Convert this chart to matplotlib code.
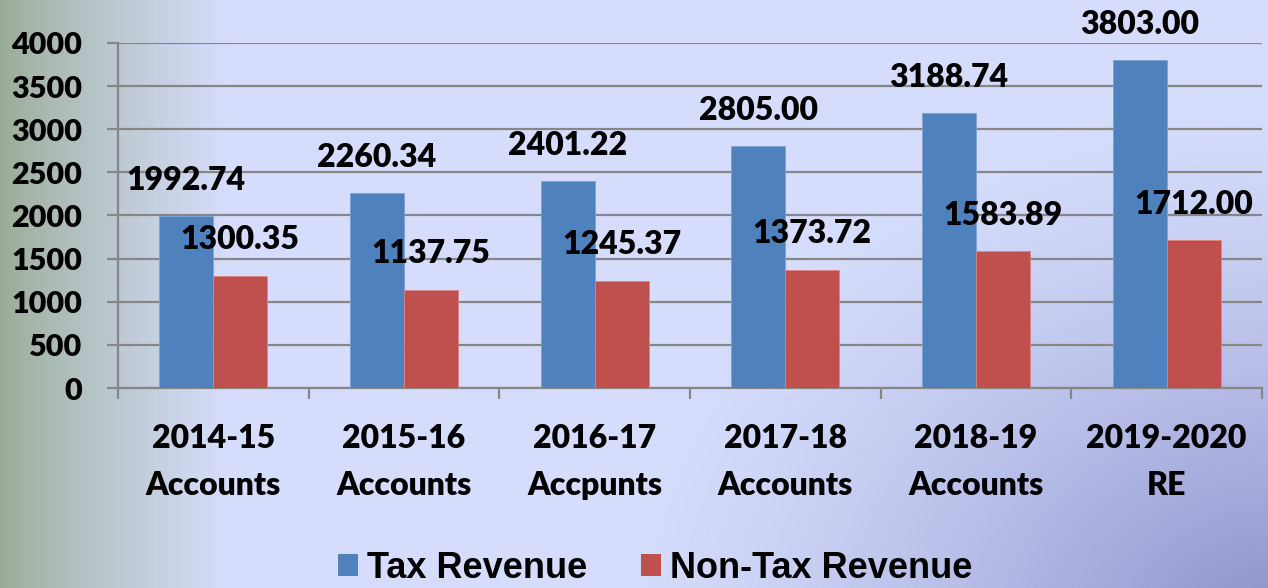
import numpy as np
import matplotlib
matplotlib.use('Agg')
import matplotlib.pyplot as plt
from matplotlib.patches import Patch

# data
categories = ['2014-15\nAccounts', '2015-16\nAccounts', '2016-17\nAccpunts',
              '2017-18\nAccounts', '2018-19\nAccounts', '2019-2020\nRE']
tax_revenue = [1992.74, 2260.34, 2401.22, 2805.00, 3188.74, 3803.00]
non_tax_revenue = [1300.35, 1137.75, 1245.37, 1373.72, 1583.89, 1712.00]
y_ticks = [0, 500, 1000, 1500, 2000, 2500, 3000, 3500, 4000]

blue = '#4F81BD'
red = '#C0504D'
grid_gray = '#868686'
lab_font = 'Lato'
lab_weight = 'heavy'

fig = plt.figure(figsize=(12.68, 5.88), dpi=100)

# background gradient
W, H = 1268, 588
xs = np.arange(W)[None, :]
ys = np.arange(H)[:, None]
c_left = np.array([0.60, 0.67, 0.58])
c_mid = np.array([0.84, 0.87, 0.99])
c_purple = np.array([0.53, 0.55, 0.78])
t = np.clip(xs / 230.0, 0, 1) + 0 * ys
t = t ** 0.8
img = c_left[None, None, :] * (1 - t[..., None]) + c_mid[None, None, :] * t[..., None]
d = np.sqrt(((xs - 1290) / 1.0) ** 2 + ((ys - 640) / 0.8) ** 2)
w = np.clip(1 - d / 700.0, 0, 1) ** 1.4
img = img * (1 - w[..., None]) + c_purple[None, None, :] * w[..., None]
bg = fig.add_axes([0, 0, 1, 1], zorder=0)
bg.imshow(img, aspect='auto', extent=[0, 1, 0, 1])
bg.axis('off')

ax = fig.add_axes([118 / W, 1 - 388 / H, (1262 - 118) / W, (388 - 43) / H], zorder=1)
ax.patch.set_alpha(0)

x = np.arange(len(categories))
bw = 0.283
ax.bar(x - bw / 2, tax_revenue, bw, color=blue, edgecolor='#7da2d4', linewidth=0.6, zorder=3, label='Tax Revenue')
ax.bar(x + bw / 2, non_tax_revenue, bw, color=red, edgecolor='#d98583', linewidth=0.6, zorder=3, label='Non-Tax Revenue')

for i in range(len(categories)):
    ax.annotate(f'{tax_revenue[i]:.2f}', (x[i] - bw / 2, tax_revenue[i]), xytext=(0, 19),
                textcoords='offset points', ha='center', va='baseline',
                fontsize=23, fontweight=lab_weight, family=lab_font, zorder=5, annotation_clip=False)
    ax.annotate(f'{non_tax_revenue[i]:.2f}', (x[i] + bw / 2, non_tax_revenue[i]), xytext=(0, 19),
                textcoords='offset points', ha='center', va='baseline',
                fontsize=23, fontweight=lab_weight, family=lab_font, zorder=5, annotation_clip=False)

ax.set_xlim(-0.5, len(categories) - 0.5)
ax.set_ylim(0, 4000)
ax.set_yticks(y_ticks)
ax.set_yticklabels([str(v) for v in y_ticks], fontsize=22, fontweight=lab_weight, family=lab_font)
ax.yaxis.grid(True, color=grid_gray, linewidth=1.6, zorder=1)
ax.set_axisbelow(True)

ax.set_xticks(x)
ax.set_xticklabels(categories, fontsize=23, fontweight=lab_weight, family=lab_font, linespacing=1.75)
ax.set_xticks(np.arange(len(categories) + 1) - 0.5, minor=True)
ax.tick_params(axis='x', which='major', length=0, pad=26)
ax.tick_params(axis='x', which='minor', length=8, width=1.6, color=grid_gray, direction='out')
ax.tick_params(axis='y', length=8, width=1.6, color=grid_gray, pad=18)

for s in ['top', 'right']:
    ax.spines[s].set_visible(False)
ax.spines['left'].set_color(grid_gray)
ax.spines['left'].set_linewidth(1.6)
ax.spines['bottom'].set_color(grid_gray)
ax.spines['bottom'].set_linewidth(1.6)

handles = [Patch(facecolor=blue), Patch(facecolor=red)]
fig.legend(handles, ['Tax Revenue', 'Non-Tax Revenue'], loc='center',
           bbox_to_anchor=(655 / W, 0.033), ncol=2, frameon=False,
           prop={'family': 'Liberation Sans', 'weight': 'bold', 'size': 26},
           handlelength=0.55, handleheight=0.55, handletextpad=0.25, columnspacing=1.5)

fig.savefig('out.png', dpi=100)
